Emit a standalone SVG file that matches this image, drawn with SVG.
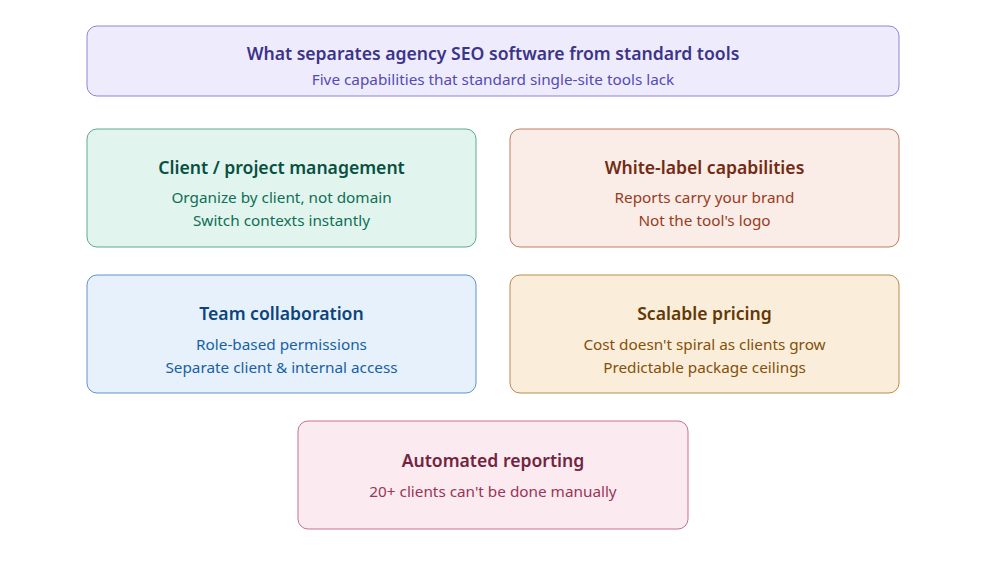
<svg xmlns="http://www.w3.org/2000/svg" width="1006" height="562" viewBox="0 0 1006 562">
<style>
text{font-family:"Noto Sans","Open Sans",sans-serif;text-anchor:middle}
.t{font-size:17.6px;font-weight:600}
.s{font-size:15.3px}
rect{stroke-width:1}
</style>
<rect width="1006" height="562" fill="#ffffff"/>
<g id="header">
<rect x="87" y="26" width="812" height="70" rx="10" fill="#eeecfc" stroke="#8f84d6"/>
<text class="t" x="493" y="60" fill="#3c3489">What separates agency SEO software from standard tools</text>
<text class="s" x="493" y="85" fill="#534ab7">Five capabilities that standard single-site tools lack</text>
</g>
<g id="client">
<rect x="87" y="129" width="389" height="118" rx="10" fill="#e1f5ee" stroke="#5dab8a"/>
<text class="t" x="281.5" y="174" fill="#085041">Client / project management</text>
<text class="s" x="281.5" y="203" fill="#0f6e56">Organize by client, not domain</text>
<text class="s" x="281.5" y="226" fill="#0f6e56">Switch contexts instantly</text>
</g>
<g id="whitelabel">
<rect x="510" y="129" width="389" height="118" rx="10" fill="#faece7" stroke="#c27c62"/>
<text class="t" x="704.5" y="174" fill="#712b13">White-label capabilities</text>
<text class="s" x="704.5" y="203" fill="#993c1d">Reports carry your brand</text>
<text class="s" x="704.5" y="226" fill="#993c1d">Not the tool's logo</text>
</g>
<g id="team">
<rect x="87" y="275" width="389" height="118" rx="10" fill="#e6f1fb" stroke="#5e93cf"/>
<text class="t" x="281.5" y="320" fill="#0c447c">Team collaboration</text>
<text class="s" x="281.5" y="350" fill="#185fa5">Role-based permissions</text>
<text class="s" x="281.5" y="373" fill="#185fa5">Separate client &amp; internal access</text>
</g>
<g id="pricing">
<rect x="510" y="275" width="389" height="118" rx="10" fill="#faeeda" stroke="#ba8a4a"/>
<text class="t" x="704.5" y="320" fill="#633806">Scalable pricing</text>
<text class="s" x="704.5" y="350" fill="#854f0b">Cost doesn't spiral as clients grow</text>
<text class="s" x="704.5" y="373" fill="#854f0b">Predictable package ceilings</text>
</g>
<g id="reporting">
<rect x="298" y="421" width="390" height="108" rx="10" fill="#fbeaf0" stroke="#c96f92"/>
<text class="t" x="493" y="467" fill="#72243e">Automated reporting</text>
<text class="s" x="493" y="497" fill="#993556">20+ clients can't be done manually</text>
</g>
<g id="connectors"></g>
</svg>
